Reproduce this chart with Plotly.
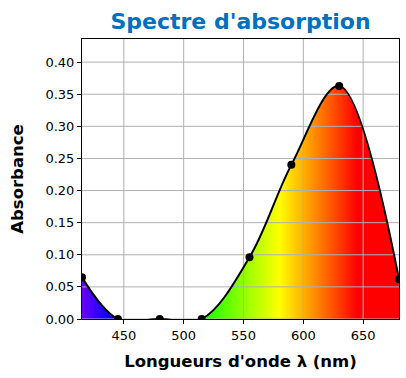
import plotly.graph_objects as go

# Data
wavelengths = [415, 445, 480, 515, 555, 590, 630, 680]
absorbance = [0.065, 0.0, 0.0, 0.0, 0.096, 0.240, 0.363, 0.062]

x_ticks = [450, 500, 550, 600, 650]
y_ticks = [0.00, 0.05, 0.10, 0.15, 0.20, 0.25, 0.30, 0.35, 0.40]

x_range = [415, 680]
y_range = [0, 0.436]

# Visible spectrum colours (wavelength nm -> colour)
spec_nm = [415, 440, 490, 510, 580, 645, 680]
spec_col = ["rgb(106,0,255)", "rgb(0,0,255)", "rgb(0,255,255)", "rgb(0,255,0)",
            "rgb(255,255,0)", "rgb(255,0,0)", "rgb(255,0,0)"]
colorscale = [[(w - spec_nm[0]) / (spec_nm[-1] - spec_nm[0]), c] for w, c in zip(spec_nm, spec_col)]

FONT = "DejaVu Sans"

fig = go.Figure()

# Gradient-filled area
fig.add_trace(go.Scatter(
    x=wavelengths, y=absorbance, mode="lines",
    line=dict(width=0, shape="spline", smoothing=1.0),
    fill="tozeroy",
    fillgradient=dict(type="horizontal", colorscale=colorscale,
                      start=spec_nm[0], stop=spec_nm[-1]),
    hoverinfo="skip", showlegend=False,
))

# Grid lines drawn above the fill
gx, gy = [], []
for t in x_ticks:
    gx += [t, t, None]
    gy += [y_range[0], y_range[1], None]
for t in y_ticks:
    gx += [x_range[0], x_range[1], None]
    gy += [t, t, None]
fig.add_trace(go.Scatter(x=gx, y=gy, mode="lines",
                         line=dict(color="#b0b0b0", width=1),
                         hoverinfo="skip", showlegend=False, cliponaxis=True))

# Curve and points
fig.add_trace(go.Scatter(
    x=wavelengths, y=absorbance, mode="lines+markers",
    line=dict(color="black", width=2, shape="spline", smoothing=1.0),
    marker=dict(color="black", size=8),
    showlegend=False,
))

axis_common = dict(
    showgrid=False, zeroline=False, showline=True, linecolor="black", linewidth=1,
    mirror=True, ticks="outside", ticklen=4, tickcolor="black", tickwidth=1,
    tickfont=dict(family=FONT, size=13, color="black"), automargin=False,
)

fig.update_xaxes(range=x_range, tickvals=x_ticks,
                 title=dict(text="<b>Longueurs d'onde λ (nm)</b>",
                            font=dict(family=FONT, size=16.5, color="black"), standoff=13),
                 **axis_common)
fig.update_yaxes(range=y_range, tickvals=y_ticks, tickformat=".2f",
                 title=dict(text="<b>Absorbance</b>",
                            font=dict(family=FONT, size=16.5, color="black"), standoff=17),
                 **axis_common)

fig.update_layout(
    width=406, height=378,
    margin=dict(l=82, r=7, t=39, b=59),
    paper_bgcolor="white", plot_bgcolor="white",
    title=dict(text="<b>Spectre d'absorption</b>", x=0.5, xref="paper",
               y=1 - 21 / 378, yanchor="middle",
               font=dict(family=FONT, size=22, color="#0070C0")),
)

fig.write_html("out.html", config={"displayModeBar": False},
               post_script="document.body.style.margin='0';")
